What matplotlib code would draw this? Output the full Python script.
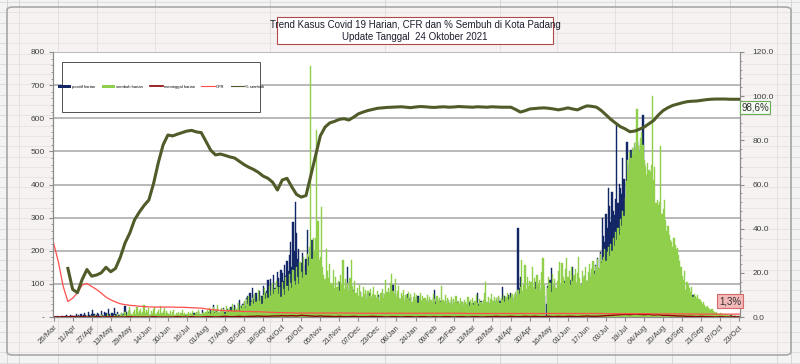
import matplotlib
matplotlib.use('Agg')
import matplotlib.pyplot as plt
import numpy as np
import pandas as pd
from matplotlib.patches import Rectangle, FancyBboxPatch, Patch
from matplotlib.lines import Line2D

plt.rcParams['font.family'] = ['Liberation Sans Narrow', 'Liberation Sans', 'DejaVu Sans']

start = pd.Timestamp('2020-03-26')

# positif harian, one row per month (26 Mar 2020 .. 23 Oct 2021)
positif = (
    [2, 1, 0, 3, 0, 1]
    + [0, 2, 1, 0, 3, 5, 2, 1, 6, 3, 2, 0, 4, 8, 3, 5, 2, 9, 4, 6, 12, 5, 3, 14, 7, 4, 10, 22, 8, 6]
    + [5, 12, 9, 4, 18, 7, 3, 15, 11, 6, 25, 9, 4, 13, 8, 27, 10, 5, 16, 7, 3, 12, 6, 9, 33, 14, 5, 8, 20, 6, 4]
    + [3, 7, 2, 5, 9, 1, 4, 6, 2, 8, 3, 1, 5, 2, 6, 0, 3, 7, 2, 4, 1, 5, 2, 3, 6, 1, 4, 2, 8, 3]
    + [2, 5, 1, 3, 7, 2, 4, 1, 6, 3, 2, 8, 4, 1, 5, 3, 9, 2, 6, 4, 3, 11, 5, 2, 7, 14, 6, 4, 20, 9, 5]
    + [12, 8, 15, 6, 22, 10, 36, 14, 9, 18, 25, 11, 7, 20, 13, 28, 16, 9, 24, 17, 12, 30, 19, 14, 35, 22, 18, 41, 51, 27, 33]
    + [38, 45, 29, 56, 62, 40, 71, 48, 87, 55, 66, 72, 43, 58, 80, 51, 64, 95, 60, 72, 78, 112, 84, 115, 70, 96, 128, 88, 104, 136]
    + [118, 95, 142, 133, 110, 157, 124, 168, 140, 186, 227, 150, 287, 198, 347, 254, 176, 205, 142, 163, 193, 158, 121, 175, 263, 181, 140, 118, 233, 103, 96]
    + [88, 64, 75, 52, 97, 70, 46, 82, 61, 58, 93, 47, 66, 74, 40, 85, 57, 63, 49, 78, 105, 60, 44, 71, 55, 82, 67, 151, 72, 58]
    + [64, 49, 83, 57, 70, 42, 61, 55, 76, 38, 59, 47, 68, 52, 44, 73, 50, 36, 62, 48, 60, 41, 57, 66, 35, 49, 72, 53, 45, 70, 58]
    + [61, 48, 74, 52, 97, 66, 43, 58, 70, 39, 55, 46, 62, 57, 35, 49, 68, 41, 53, 60, 37, 44, 59, 33, 48, 62, 40, 51, 36, 45, 54]
    + [42, 35, 50, 28, 46, 39, 33, 57, 82, 44, 51, 30, 38, 47, 26, 41, 35, 49, 29, 37, 44, 31, 52, 27, 36, 40, 33, 45]
    + [30, 38, 27, 44, 33, 25, 40, 35, 29, 46, 31, 24, 37, 42, 28, 35, 72, 39, 30, 48, 33, 26, 41, 36, 29, 45, 38, 32, 50, 41, 35]
    + [44, 52, 38, 61, 47, 55, 91, 49, 63, 42, 58, 66, 51, 72, 60, 45, 57, 68, 53, 269, 88, 121, 64, 59, 76, 52, 69, 83, 61, 74]
    + [70, 58, 84, 66, 106, 78, 62, 90, 72, 55, 81, 64, 4, 38, 95, 70, 112, 148, 86, 74, 98, 67, 80, 103, 76, 92, 61, 88, 110, 79, 94]
    + [98, 84, 112, 73, 151, 90, 105, 81, 96, 118, 88, 76, 102, 93, 125, 84, 110, 97, 132, 89, 116, 106, 140, 157, 121, 178, 134, 196, 165, 299]
    + [245, 227, 310, 268, 390, 335, 286, 378, 320, 308, 355, 580, 344, 402, 390, 372, 480, 418, 353, 529, 529, 435, 460, 504, 395, 470, 512, 448, 529, 486, 455]
    + [520, 478, 610, 462, 430, 410, 402, 375, 396, 350, 338, 332, 310, 295, 300, 280, 262, 298, 245, 230, 256, 214, 198, 216, 187, 172, 180, 158, 146, 165, 138]
    + [110, 98, 92, 85, 78, 70, 74, 62, 66, 58, 55, 49, 52, 66, 45, 41, 38, 43, 34, 31, 29, 26, 28, 23, 21, 19, 17, 15, 16, 12]
    + [11, 9, 8, 10, 7, 5, 8, 4, 6, 5, 3, 4, 6, 2, 3, 5, 2, 1, 3, 2, 1, 2, 1]
)

# sembuh harian
sembuh = (
    [0, 0, 0, 0, 0, 0]
    + [0, 0, 0, 0, 0, 1, 0, 0, 0, 2, 0, 0, 1, 0, 0, 3, 0, 1, 0, 0, 2, 0, 4, 0, 1, 0, 3, 0, 2, 5]
    + [0, 3, 1, 0, 6, 2, 0, 4, 0, 8, 3, 1, 5, 0, 2, 7, 4, 0, 9, 3, 5, 12, 2, 6, 15, 4, 8, 18, 30, 10, 6]
    + [14, 22, 9, 31, 12, 18, 25, 8, 16, 36, 11, 20, 14, 27, 7, 19, 12, 24, 30, 10, 15, 21, 8, 33, 13, 18, 26, 9, 17, 12]
    + [10, 18, 7, 14, 22, 6, 12, 9, 16, 5, 11, 20, 8, 13, 4, 10, 15, 7, 12, 9, 18, 6, 11, 14, 8, 21, 10, 7, 13, 16, 9]
    + [14, 20, 11, 26, 9, 17, 30, 13, 22, 15, 35, 12, 19, 28, 16, 24, 10, 33, 21, 14, 27, 18, 38, 23, 16, 30, 25, 42, 19, 34, 28]
    + [35, 48, 27, 55, 40, 62, 33, 45, 58, 38, 70, 44, 52, 81, 47, 60, 39, 66, 88, 53, 72, 58, 95, 64, 78, 102, 70, 86, 110, 92]
    + [70, 92, 60, 105, 84, 66, 120, 95, 78, 130, 104, 88, 142, 110, 96, 150, 122, 100, 165, 135, 118, 180, 140, 126, 190, 155, 210, 758, 175, 240, 200]
    + [240, 565, 290, 172, 180, 333, 150, 128, 115, 205, 138, 118, 160, 104, 96, 142, 88, 120, 92, 110, 80, 128, 96, 172, 85, 115, 90, 102, 78, 118]
    + [172, 95, 80, 110, 72, 88, 64, 98, 75, 60, 90, 68, 82, 55, 77, 62, 85, 58, 70, 92, 66, 54, 80, 61, 48, 72, 86, 57, 69, 112, 75]
    + [88, 72, 102, 130, 80, 68, 114, 60, 78, 94, 55, 72, 62, 82, 49, 66, 58, 75, 52, 69, 45, 61, 72, 51, 65, 42, 57, 71, 47, 62, 54]
    + [56, 47, 65, 41, 60, 51, 45, 69, 55, 38, 62, 49, 57, 44, 94, 52, 46, 66, 39, 56, 50, 42, 61, 35, 54, 46, 64, 41]
    + [49, 38, 57, 44, 35, 52, 46, 39, 60, 33, 50, 42, 56, 36, 47, 65, 41, 34, 55, 45, 38, 51, 72, 106, 44, 59, 40, 54, 69, 47, 61]
    + [44, 56, 48, 62, 41, 58, 52, 67, 45, 60, 73, 50, 64, 57, 70, 48, 66, 75, 59, 82, 68, 90, 172, 77, 96, 157, 86, 121, 95, 110]
    + [105, 151, 92, 118, 84, 126, 98, 112, 80, 135, 178, 96, 0, 0, 88, 120, 102, 76, 130, 94, 115, 87, 108, 140, 166, 98, 163, 122, 104, 145, 178]
    + [120, 138, 96, 152, 110, 128, 145, 102, 133, 181, 118, 96, 140, 118, 125, 150, 108, 135, 160, 122, 144, 170, 130, 155, 138, 176, 148, 190, 162, 172]
    + [180, 205, 168, 196, 211, 185, 220, 198, 240, 215, 256, 232, 270, 248, 295, 276, 320, 305, 360, 410, 474, 435, 498, 480, 510, 492, 526, 505, 628, 515, 498]
    + [540, 559, 520, 474, 452, 430, 466, 445, 438, 460, 667, 414, 453, 344, 352, 338, 346, 517, 310, 325, 353, 293, 260, 275, 248, 233, 226, 211, 240, 218, 205]
    + [208, 186, 170, 151, 125, 112, 138, 82, 105, 96, 88, 75, 92, 60, 70, 64, 58, 67, 55, 51, 46, 40, 44, 36, 30, 34, 27, 24, 21, 25]
    + [19, 15, 12, 14, 10, 8, 11, 7, 9, 6, 8, 5, 7, 4, 6, 3, 5, 4, 2, 3, 2, 1, 2]
)

# the line series, read every 4th day (day 0, 4, 8, ... 576)
meninggal = (
    [1, 0, 1, 0, 2, 0, 1, 0, 0, 1, 0, 0, 1, 0, 0, 0, 1, 0, 0, 0, 0, 1, 0, 0, 0]
    + [0, 1, 0, 0, 1, 0, 0, 1, 1, 0, 1, 2, 1, 1, 2, 1, 2, 2, 3, 2, 2, 3, 3, 4, 3]
    + [4, 3, 5, 4, 3, 2, 3, 2, 2, 1, 2, 1, 1, 2, 1, 1, 1, 2, 1, 1, 0, 1, 1, 0, 1]
    + [1, 0, 1, 1, 0, 1, 0, 1, 1, 0, 1, 1, 0, 1, 1, 0, 1, 1, 2, 1, 1, 2, 1, 1, 2]
    + [1, 2, 1, 1, 2, 1, 2, 1, 2, 2, 1, 2, 3, 2, 2, 3, 4, 5, 6, 7, 8, 7, 9, 8, 7]
    + [8, 6, 7, 5, 5, 4, 3, 3, 2, 2, 1, 2, 1, 1, 0, 1, 0, 0, 1, 0]
)

cfr = (
    [33.5, 25.0, 14.0, 7.0, 8.5, 10.9, 14.5, 15.2, 13.8, 12.5]
    + [10.8, 9.0, 7.8, 6.8, 6.0, 5.6, 5.3, 5.1, 4.9, 4.7]
    + [4.6, 4.5, 4.5, 4.5, 4.5, 4.5, 4.4, 4.4, 4.3, 4.2]
    + [4.1, 4.0, 3.7, 3.4, 3.2, 3.0, 2.9, 2.8, 2.7, 2.6]
    + [2.5, 2.5, 2.4, 2.4, 2.3, 2.2, 2.1, 2.0, 2.0, 1.9]
    + [1.9, 1.8, 1.8, 1.8, 1.8, 1.8, 1.8, 1.8, 1.8, 1.8]
    + [1.8, 1.8, 1.8, 1.8, 1.7, 1.7, 1.7, 1.7, 1.7, 1.7]
    + [1.7, 1.7, 1.7, 1.7, 1.7, 1.7, 1.7, 1.7, 1.7, 1.7]
    + [1.7, 1.7, 1.7, 1.7, 1.7, 1.7, 1.7, 1.6, 1.6, 1.6]
    + [1.6, 1.6, 1.6, 1.6, 1.6, 1.6, 1.6, 1.6, 1.6, 1.6]
    + [1.6, 1.6, 1.6, 1.6, 1.6, 1.6, 1.6, 1.6, 1.6, 1.6]
    + [1.6, 1.6, 1.6, 1.6, 1.6, 1.6, 1.5, 1.5, 1.5, 1.5]
    + [1.5, 1.5, 1.5, 1.5, 1.5, 1.5, 1.4, 1.4, 1.4, 1.4]
    + [1.4, 1.4, 1.4, 1.4, 1.4, 1.3, 1.3, 1.3, 1.3, 1.3]
    + [1.3, 1.3, 1.3, 1.3, 1.3]
)

persen_sembuh = (
    [np.nan, np.nan, np.nan, 22.0, 12.5, 11.0, 17.0, 21.5, 18.5, 19.0]
    + [20.0, 22.5, 20.5, 22.0, 27.0, 33.5, 38.0, 44.0, 47.5, 50.5]
    + [53.0, 60.5, 70.0, 78.0, 82.4, 82.0, 82.8, 83.5, 84.2, 84.5]
    + [83.8, 83.5, 79.5, 75.5, 73.4, 73.8, 73.2, 72.5, 72.0, 70.5]
    + [69.0, 67.8, 66.8, 65.5, 63.8, 62.8, 61.0, 57.5, 62.0, 62.8]
    + [59.0, 55.5, 54.3, 55.0, 64.0, 73.0, 82.0, 86.0, 87.9, 88.6]
    + [89.5, 89.8, 89.2, 90.5, 92.0, 92.8, 93.5, 94.0, 94.5, 94.7]
    + [94.9, 95.0, 95.1, 95.2, 95.0, 94.8, 95.1, 95.3, 95.2, 95.0]
    + [94.9, 95.1, 95.2, 95.0, 95.1, 95.3, 95.2, 95.1, 95.0, 95.2]
    + [95.1, 95.0, 95.2, 95.1, 95.0, 95.0, 95.0, 94.0, 92.8, 93.4]
    + [94.2, 94.4, 94.6, 94.7, 94.5, 94.2, 93.8, 94.2, 94.7, 94.2]
    + [93.8, 94.8, 95.6, 95.4, 95.0, 93.5, 91.5, 89.5, 87.8, 86.2]
    + [85.2, 83.9, 84.2, 85.0, 86.0, 87.5, 89.0, 91.5, 93.5, 94.8]
    + [95.8, 96.4, 97.0, 97.5, 97.7, 97.8, 98.1, 98.4, 98.6, 98.7]
    + [98.7, 98.7, 98.6, 98.6, 98.6]
)

legend_labels = ['positif harian', 'sembuh harian', 'meninggal harian', 'CFR', '% sembuh']
title_lines = ['Trend Kasus Covid 19 Harian, CFR dan % Sembuh di Kota Padang',
               'Update Tanggal  24 Oktober 2021']

c_pos = '#132766'
c_sem = '#8fcf4c'
c_mgl = '#8b0000'
c_cfr = '#ff4d4d'
c_pct = '#4f5b28'

W, H = 800, 364
fig = plt.figure(figsize=(8, 3.64), dpi=100)
fig.patch.set_facecolor('#f3f3f3')


def fx(px):
    return px / W


def fy(py):
    return 1 - py / H


# spreadsheet cells behind the chart
for yy in np.arange(2, H, 10.3):
    fig.add_artist(Line2D([0, 1], [fy(yy)] * 2, color='#dadada', lw=0.6, zorder=0))
for xx in [7, 19, 58, 97, 155, 270, 385, 500, 557, 615, 672, 730, 777, 791]:
    fig.add_artist(Line2D([fx(xx)] * 2, [0, 1], color='#d2d2d2', lw=0.6, zorder=0))

# chart area
fig.add_artist(FancyBboxPatch((fx(7), fy(355)), fx(784), 348 / H,
                              boxstyle='round,pad=0,rounding_size=0.008',
                              fc=(1, 0.95, 0.95, 0.35), ec='#a8a8a8', lw=1.2, zorder=0.5))

ax = fig.add_axes([fx(53), fy(317), fx(687), 265 / H])
ax.set_zorder(1)
ax.set_facecolor('white')
days = np.arange(len(positif))
ax.bar(days, positif, width=1.0, color=c_pos, ec=c_pos, lw=0.3, zorder=2)
ax.bar(days, sembuh, width=1.0, color=c_sem, ec=c_sem, lw=0.3, zorder=3)
step_days = np.arange(0, len(positif), 4)
ax.plot(step_days, meninggal, color=c_mgl, lw=1.0, zorder=4)

ax.set_xlim(-0.5, len(positif) - 0.5)
ax.set_ylim(0, 800)
ax.yaxis.grid(True, color='#a6a6a6', lw=1.1)
ax.set_axisbelow(True)

ax2 = ax.twinx()
ax2.set_zorder(2)
ax2.patch.set_visible(False)
ax2.set_ylim(0, 120)
ax2.plot(step_days, cfr, color=c_cfr, lw=0.9)
ax2.plot(step_days, persen_sembuh, color=c_pct, lw=2.2)

for a in (ax, ax2):
    a.spines['top'].set_visible(False)
    for s in ('left', 'right', 'bottom'):
        a.spines[s].set_color('#8c8c8c')
        a.spines[s].set_linewidth(0.8)

yt = list(range(0, 801, 100))
ax.set_yticks(yt)
ax.set_yticklabels(['-' if v == 0 else str(v) for v in yt])
ax.set_yticks(range(0, 801, 20), minor=True)
ax.tick_params(axis='y', which='major', labelsize=6, colors='#8c8c8c', labelcolor='#404040',
               length=3, width=0.8, pad=3)
ax.tick_params(axis='y', which='minor', colors='#8c8c8c', length=1.5, width=0.6)

rt = list(range(0, 121, 20))
ax2.set_yticks(rt)
ax2.set_yticklabels(['%.1f' % v for v in rt])
ax2.set_yticks(range(0, 121, 4), minor=True)
ax2.tick_params(axis='y', which='major', labelsize=6, colors='#8c8c8c', labelcolor='#404040',
                length=3, width=0.8, pad=6)
ax2.tick_params(axis='y', which='minor', colors='#8c8c8c', length=1.5, width=0.6)

xt = list(range(0, len(positif), 16))
ax.set_xticks(xt)
ax.set_xticklabels([(start + pd.Timedelta(days=d)).strftime('%d/%b') for d in xt],
                   rotation=45, ha='right', rotation_mode='anchor')
ax.tick_params(axis='x', labelsize=5.5, colors='#8c8c8c', labelcolor='#404040',
               length=3, width=0.8, pad=2)

# legend box
fig.add_artist(Rectangle((fx(62), fy(112)), fx(198), 50 / H, fc='white', ec='#505050',
                         lw=0.7, zorder=3))
handles = [Patch(fc=c_pos), Patch(fc=c_sem), Line2D([], [], color=c_mgl, lw=1.2),
           Line2D([], [], color=c_cfr, lw=0.8), Line2D([], [], color=c_pct, lw=0.8)]
fig.legend(handles, legend_labels, loc='center', bbox_to_anchor=(fx(161), fy(87)),
           ncol=5, fontsize=3, frameon=False, handlelength=3.2, handleheight=0.9,
           handletextpad=0.2, columnspacing=1.6)

# title box
fig.add_artist(Rectangle((fx(277), fy(44)), fx(276), 27 / H, fc='white', ec='#b04a4a',
                         lw=0.8, zorder=3))
fig.text(fx(415), fy(25.5), title_lines[0], ha='center', va='center', fontsize=7,
         color='#1e1e2e', zorder=4)
fig.text(fx(415), fy(37), title_lines[1], ha='center', va='center', fontsize=7,
         color='#1e1e2e', zorder=4)

# last-value labels
pct_last = '%.1f%%' % persen_sembuh[-1]
cfr_last = '%.1f%%' % cfr[-1]
fig.text(fx(755), fy(107.5), pct_last.replace('.', ','), ha='center', va='center',
         fontsize=7, color='#303030', zorder=4,
         bbox=dict(boxstyle='square,pad=0.15', fc='#f4fbf0', ec='#6aaa5a', lw=0.8))
fig.text(fx(730), fy(301), cfr_last.replace('.', ','), ha='center', va='center',
         fontsize=7, color='#303030', zorder=4,
         bbox=dict(boxstyle='square,pad=0.2', fc='#f4b9b9', ec='#d46a6a', lw=0.8))

fig.savefig('out.png', dpi=100, facecolor=fig.get_facecolor())
